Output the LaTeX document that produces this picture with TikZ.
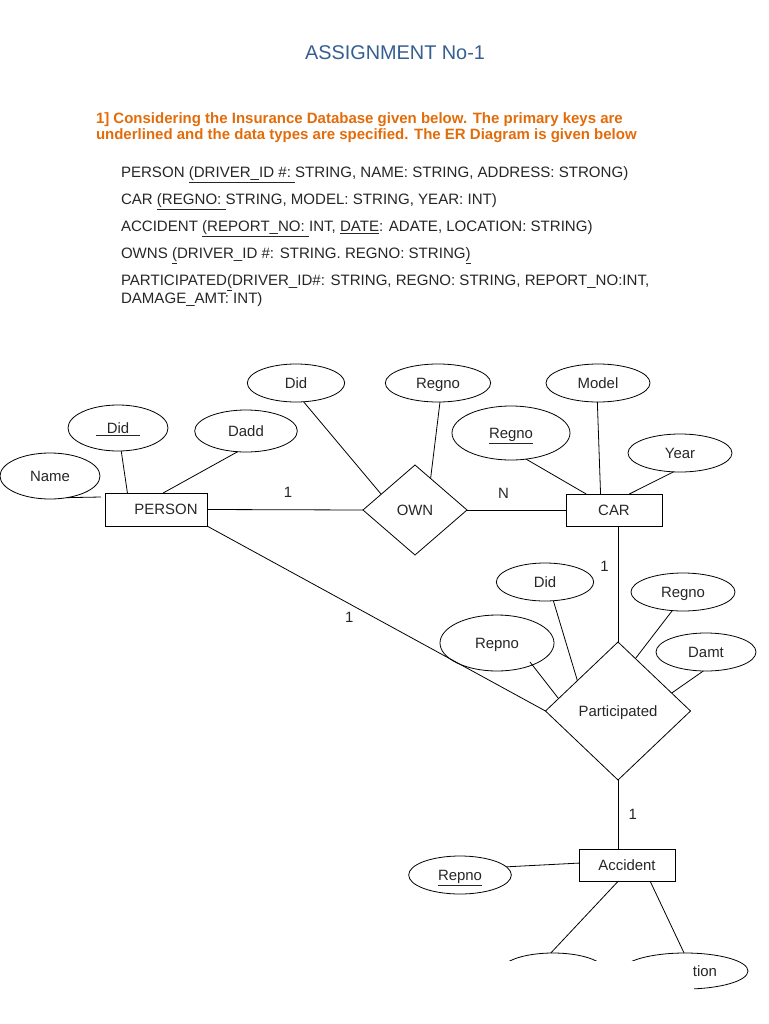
\documentclass[tikz,border=0pt]{standalone}
\usepackage{fontspec}
\setmainfont{Liberation Sans}
\usetikzlibrary{shapes.geometric,calc}
\definecolor{titleblue}{HTML}{365F91}
\definecolor{headorange}{HTML}{E36C0A}
\begin{document}
\begin{tikzpicture}[x=0.75pt,y=-0.75pt,
  every node/.style={inner sep=0pt, outer sep=0pt},
  dfont/.style={font=\fontsize{11.2}{13}\selectfont, text=black!85, text height=8pt, text depth=0pt},
  attr/.style={draw, ellipse, line width=0.6pt, dfont},
  ent/.style={draw, rectangle, line width=0.6pt, dfont},
  relsh/.style={draw, diamond, line width=0.6pt, dfont},
  card/.style={dfont},
  conn/.style={line width=0.6pt},
  reltext/.style={anchor=base west, font=\fontsize{11.3}{13}\selectfont, text=black!85}
]
\useasboundingbox (0,0) rectangle (768,1024);

% ---- header texts ----
\node[font=\fontsize{14.9}{17}\selectfont, text=titleblue] (title) at (395,53) {ASSIGNMENT No-1};
\node[anchor=west, align=left, font=\fontsize{11.25}{12}\selectfont\bfseries, text=headorange] (heading) at (96,128)
  {1] Considering the Insurance Database given below. The primary keys are\\underlined and the data types are specified. The ER Diagram is given below};

\node[reltext] (r1) at (121,177.5) {PERSON \underline{(DRIVER\_ID \#:\ }STRING, NAME: STRING, ADDRESS: STRONG)};
\node[reltext] (r2) at (121,204.5) {CAR \underline{(REGNO:\ }STRING, MODEL: STRING, YEAR: INT)};
\node[reltext] (r3) at (121,231.5) {ACCIDENT \underline{(REPORT\_NO:\ }INT, \underline{DATE}: ADATE, LOCATION: STRING)};
\node[reltext] (r4) at (121,258.5) {OWNS \underline{(}DRIVER\_ID \#: STRING. REGNO: STRING\underline{)}};
\node[reltext] (r5) at (121,285.5) {PARTICIPATED\underline{(}DRIVER\_ID\#: STRING, REGNO: STRING, REPORT\_NO:INT,};
\node[reltext] (r6) at (121,303.5) {DAMAGE\_AMT: INT)};

% ---- entities ----
\node[ent, minimum width=76.5pt, minimum height=24.75pt] (person) at (156,509.5) {\hspace*{15pt}PERSON};
\node[ent, minimum width=72pt, minimum height=24pt] (car) at (614,510) {CAR};
\node[ent, minimum width=72pt, minimum height=24pt] (acc) at (627,865) {Accident};

% ---- relationships ----
\node[relsh, minimum width=78pt, minimum height=67.5pt] (own) at (415,510) {OWN};
\node[relsh, minimum width=108.75pt, minimum height=103.5pt] (part) at (618,711) {Participated};

% ---- attributes ----
\node[attr, minimum width=75pt, minimum height=34.5pt] (name) at (50,476) {Name};
\node[attr, minimum width=75pt, minimum height=34.5pt] (pdid) at (118,428) {\underline{\hspace*{8pt}Did\hspace*{8pt}}};
\node[attr, minimum width=77pt, minimum height=31.5pt] (dadd) at (246,431) {Dadd};
\node[attr, minimum width=73pt, minimum height=28.5pt] (odid) at (296,383) {Did};
\node[attr, minimum width=79pt, minimum height=28.5pt] (oregno) at (438,383) {Regno};
\node[attr, minimum width=78pt, minimum height=28.5pt] (model) at (598,383) {Model};
\node[attr, minimum width=88.5pt, minimum height=40.5pt] (cregno) at (511,433) {\underline{Regno}};
\node[attr, minimum width=78pt, minimum height=28.5pt] (year) at (680,453) {Year};
\node[attr, minimum width=73pt, minimum height=28.5pt] (adid) at (545,582) {Did};
\node[attr, minimum width=78pt, minimum height=28.5pt] (aregno) at (683,592) {Regno};
\node[attr, minimum width=85.5pt, minimum height=42pt] (repno) at (497,643) {Repno};
\node[attr, minimum width=75pt, minimum height=28.5pt] (damt) at (706,652) {Damt};
\node[attr, minimum width=77pt, minimum height=28.5pt] (accrepno) at (460,875) {\underline{Repno}};
\node[attr, minimum width=78pt, minimum height=27pt] (e1) at (553,971) {};
\node[attr, minimum width=94.5pt, minimum height=27pt] (e2) at (685,971) {};
\coordinate (repnoin) at (530,662);

% ---- connectors ----
\draw[conn] (name.-52) -- ([xshift=-3pt,yshift=-3pt]person.north west);
\draw[conn] (pdid.-82) -- ($(person.north west)!0.22!(person.north east)$);
\draw[conn] (dadd.-112) -- ($(person.north west)!0.57!(person.north east)$);
\draw[conn] (person.east) -- node[card, pos=0.52, above=9pt] (c1) {1} (own.west);
\draw[conn] (odid.-68) -- ($(own.west)!0.35!(own.north)$);
\draw[conn] (oregno.-84) -- ($(own.north)!0.3!(own.east)$);
\draw[conn] (own.east) -- node[card, pos=0.37, above=9pt] (cn) {N} (car.west);
\draw[conn] (model.-92) -- ($(car.north west)!0.36!(car.north east)$);
\draw[conn] (cregno.-60) -- ($(car.north west)!0.21!(car.north east)$);
\draw[conn] (year.-109) -- ($(car.north west)!0.66!(car.north east)$);
\draw[conn] (part.north) -- node[card, pos=0.65, left=7pt] (c2) {1} (part.north |- car.south);
\draw[conn] (adid.-66) -- ($(part.west)!0.44!(part.north)$);
\draw[conn] (aregno.-120) -- ($(part.north)!0.24!(part.east)$);
\draw[conn] (repnoin) -- ($(part.west)!0.18!(part.north)$);
\draw[conn] (damt.-98) -- ($(part.north)!0.74!(part.east)$);
\draw[conn] (person.south east) -- node[card, pos=0.42, below=6pt] (c3) {1} (part.west);
\draw[conn] (part.south) -- node[card, pos=0.5, right=8pt] (c4) {1} (part.south |- acc.north);
\draw[conn] (accrepno.10) -- ($(acc.north west)!0.44!(acc.south west)$);
\draw[conn] ($(acc.south west)!0.41!(acc.south east)$) -- (e1.97);
\draw[conn] ($(acc.south west)!0.74!(acc.south east)$) -- (e2.93);

% cropped lower part of the picture
\fill[white] (498,961) rectangle (694,1010);
\node[dfont] (tion) at (705,971) {tion};
\end{tikzpicture}
\end{document}
